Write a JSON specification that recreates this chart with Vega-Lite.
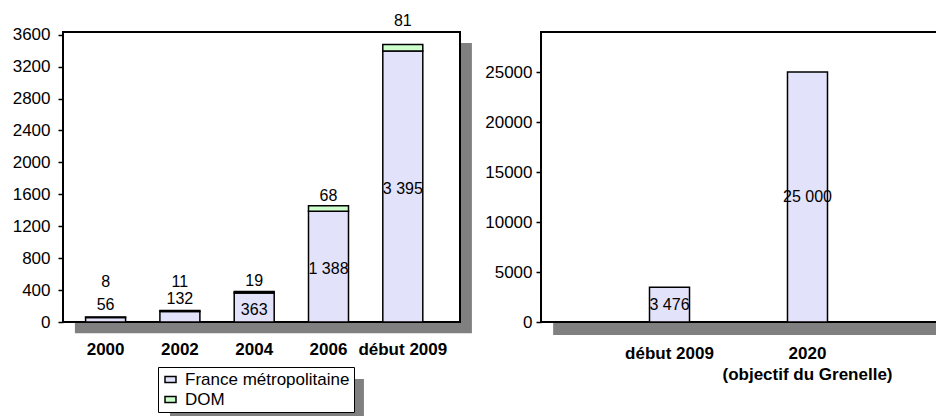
{
  "$schema": "https://vega.github.io/schema/vega-lite/v6.json",
  "autosize": {"type": "none"},
  "padding": {"left": 63, "top": 32, "right": 873, "bottom": 384},
  "bounds": "flush",
  "spacing": 81,
  "datasets": {
    "gauche": [
      {"periode": "2000", "serie": "France métropolitaine", "valeur": 56},
      {"periode": "2000", "serie": "DOM", "valeur": 8},
      {"periode": "2002", "serie": "France métropolitaine", "valeur": 132},
      {"periode": "2002", "serie": "DOM", "valeur": 11},
      {"periode": "2004", "serie": "France métropolitaine", "valeur": 363},
      {"periode": "2004", "serie": "DOM", "valeur": 19},
      {"periode": "2006", "serie": "France métropolitaine", "valeur": 1388},
      {"periode": "2006", "serie": "DOM", "valeur": 68},
      {"periode": "début 2009", "serie": "France métropolitaine", "valeur": 3395},
      {"periode": "début 2009", "serie": "DOM", "valeur": 81}
    ],
    "droite": [
      {"periode": "début 2009", "valeur": 3476},
      {"periode": "2020 (objectif du Grenelle)", "valeur": 25000}
    ]
  },
  "hconcat": [
    {
      "width": 397,
      "height": 290,
      "resolve": {"scale": {"x": "independent"}},
      "layer": [
        {
          "data": {"values": [{}]},
          "layer": [
            {
              "mark": {"type": "rect", "fill": "#808080"},
              "encoding": {
                "x": {"datum": 0.03, "type": "quantitative", "scale": {"domain": [0, 1], "nice": false}, "axis": null},
                "x2": {"datum": 1.03},
                "y": {"datum": 3496, "type": "quantitative", "scale": {"domain": [0, 3634], "nice": false}},
                "y2": {"datum": -140}
              }
            },
            {
              "mark": {"type": "rect", "fill": "white", "stroke": "black", "strokeWidth": 2},
              "encoding": {
                "x": {"datum": 0, "type": "quantitative", "scale": {"domain": [0, 1], "nice": false}, "axis": null},
                "x2": {"datum": 1},
                "y": {"datum": 3634, "type": "quantitative", "scale": {"domain": [0, 3634], "nice": false}},
                "y2": {"datum": 0}
              }
            },
            {
              "mark": {"type": "rect", "fill": "#808080"},
              "encoding": {
                "x": {"datum": 0.2695, "type": "quantitative", "scale": {"domain": [0, 1], "nice": false}, "axis": null},
                "x2": {"datum": 0.758},
                "y": {"datum": -714, "type": "quantitative", "scale": {"domain": [0, 3634], "nice": false}},
                "y2": {"datum": -1185}
              }
            }
          ]
        },
        {
          "data": {"name": "gauche"},
          "layer": [
            {
              "mark": {"type": "bar", "stroke": "black", "strokeWidth": 1.5},
              "encoding": {
                "x": {
                  "field": "periode", "type": "nominal",
                  "scale": {"domain": ["2000", "2002", "2004", "2006", "début 2009"], "range": [22.6, 359.8], "paddingInner": 0.4617, "paddingOuter": 0},
                  "axis": {"title": null, "labelAngle": 0, "ticks": false, "domain": false, "labelFontSize": 17, "labelFontWeight": "bold", "labelPadding": 19, "labelColor": "black"}
                },
                "y": {
                  "field": "valeur", "type": "quantitative", "stack": "zero",
                  "scale": {"domain": [0, 3634], "nice": false},
                  "axis": {"title": null, "values": [0, 400, 800, 1200, 1600, 2000, 2400, 2800, 3200, 3600], "format": "d", "grid": false, "domain": false, "labelOverlap": false, "tickSize": 5, "tickColor": "black", "tickWidth": 1.5, "labelPadding": 8, "labelFontSize": 17, "labelColor": "black"}
                },
                "color": {
                  "field": "serie", "type": "nominal",
                  "scale": {"domain": ["France métropolitaine", "DOM"], "range": ["#E2E2FA", "#CCFFCC"]},
                  "legend": {"orient": "none", "legendX": 95, "legendY": 335, "title": null, "direction": "vertical", "fillColor": "white", "strokeColor": "black", "padding": 4, "labelFontSize": 17, "labelLimit": 400, "labelColor": "black", "symbolType": "M-1,-0.55H1V0.55H-1Z", "symbolSize": 121, "symbolStrokeColor": "black", "symbolStrokeWidth": 1.5, "rowPadding": 2, "labelOffset": 6}
                },
                "order": {"field": "serie", "sort": "descending"}
              }
            },
            {
              "transform": [{"filter": "datum.serie == 'France métropolitaine' && datum.valeur >= 300"}],
              "mark": {"type": "text", "fontSize": 16, "baseline": "middle", "color": "black", "dy": 2},
              "encoding": {
                "x": {"field": "periode", "type": "nominal"},
                "y": {"field": "valeur", "type": "quantitative", "stack": "zero", "bandPosition": 0.5},
                "text": {"field": "valeur", "type": "quantitative", "format": ",d"}
              }
            },
            {
              "transform": [{"filter": "datum.serie == 'France métropolitaine' && datum.valeur < 300"}],
              "mark": {"type": "text", "fontSize": 16, "baseline": "middle", "color": "black", "dy": -12.5},
              "encoding": {
                "x": {"field": "periode", "type": "nominal"},
                "y": {"field": "valeur", "type": "quantitative", "stack": null},
                "text": {"field": "valeur", "type": "quantitative", "format": ",d"}
              }
            },
            {
              "transform": [{"filter": {"field": "serie", "equal": "DOM"}}, {"filter": {"field": "periode", "oneOf": ["2000", "2002", "2004"]}}],
              "mark": {"type": "text", "fontSize": 16, "baseline": "middle", "color": "black", "dy": -39},
              "encoding": {
                "x": {"field": "periode", "type": "nominal"},
                "y": {"field": "valeur", "type": "quantitative", "stack": null},
                "text": {"field": "valeur", "type": "quantitative", "format": ",d"}
              }
            },
            {
              "transform": [
                {"stack": "valeur", "groupby": ["periode"], "sort": [{"field": "serie", "order": "descending"}], "as": ["bas", "haut"]},
                {"filter": {"field": "serie", "equal": "DOM"}},
                {"filter": {"field": "periode", "equal": "2006"}}
              ],
              "mark": {"type": "text", "fontSize": 16, "baseline": "middle", "color": "black", "dy": -10},
              "encoding": {
                "x": {"field": "periode", "type": "nominal"},
                "y": {"field": "haut", "type": "quantitative"},
                "text": {"field": "valeur", "type": "quantitative", "format": ",d"}
              }
            },
            {
              "transform": [
                {"stack": "valeur", "groupby": ["periode"], "sort": [{"field": "serie", "order": "descending"}], "as": ["bas", "haut"]},
                {"filter": {"field": "serie", "equal": "DOM"}},
                {"filter": {"field": "periode", "equal": "début 2009"}}
              ],
              "mark": {"type": "text", "fontSize": 16, "baseline": "middle", "color": "black", "dy": -24},
              "encoding": {
                "x": {"field": "periode", "type": "nominal"},
                "y": {"field": "haut", "type": "quantitative"},
                "text": {"field": "valeur", "type": "quantitative", "format": ",d"}
              }
            }
          ]
        }
      ]
    },
    {
      "width": 405,
      "height": 290,
      "resolve": {"scale": {"x": "independent"}},
      "layer": [
        {
          "data": {"values": [{}]},
          "layer": [
            {
              "mark": {"type": "rect", "fill": "#808080"},
              "encoding": {
                "x": {"datum": 0.03, "type": "quantitative", "scale": {"domain": [0, 1], "nice": false}, "axis": null},
                "x2": {"datum": 1.03},
                "y": {"datum": 27900, "type": "quantitative", "scale": {"domain": [0, 29000], "nice": false}},
                "y2": {"datum": -1300}
              }
            },
            {
              "mark": {"type": "rect", "fill": "white", "stroke": "black", "strokeWidth": 2},
              "encoding": {
                "x": {"datum": 0, "type": "quantitative", "scale": {"domain": [0, 1], "nice": false}, "axis": null},
                "x2": {"datum": 1},
                "y": {"datum": 29000, "type": "quantitative", "scale": {"domain": [0, 29000], "nice": false}},
                "y2": {"datum": 0}
              }
            }
          ]
        },
        {
          "data": {"name": "droite"},
          "layer": [
            {
              "mark": {"type": "bar", "stroke": "black", "strokeWidth": 1.5, "fill": "#E2E2FA"},
              "encoding": {
                "x": {
                  "field": "periode", "type": "nominal",
                  "scale": {"domain": ["début 2009", "2020 (objectif du Grenelle)"], "range": [108.5, 286.5], "paddingInner": 0.71, "paddingOuter": 0},
                  "axis": {"title": null, "labelAngle": 0, "ticks": false, "domain": false, "labelFontSize": 17, "labelFontWeight": "bold", "labelPadding": 23, "labelLineHeight": 21, "labelColor": "black",
                    "labelExpr": "indexof(datum.value, ' (') > 0 ? [slice(datum.value, 0, indexof(datum.value, ' (')), slice(datum.value, indexof(datum.value, ' (') + 1)] : datum.value"}
                },
                "y": {
                  "field": "valeur", "type": "quantitative", "stack": "zero",
                  "scale": {"domain": [0, 29000], "nice": false},
                  "axis": {"title": null, "values": [0, 5000, 10000, 15000, 20000, 25000], "format": "d", "grid": false, "domain": false, "labelOverlap": false, "tickSize": 5, "tickColor": "black", "tickWidth": 1.5, "labelPadding": 4, "labelFontSize": 17, "labelColor": "black"}
                }
              }
            },
            {
              "mark": {"type": "text", "fontSize": 16, "baseline": "middle", "color": "black"},
              "encoding": {
                "x": {"field": "periode", "type": "nominal"},
                "y": {"field": "valeur", "type": "quantitative", "stack": "zero", "bandPosition": 0.5},
                "text": {"field": "valeur", "type": "quantitative", "format": ",d"}
              }
            }
          ]
        }
      ]
    }
  ],
  "config": {
    "font": "Liberation Sans",
    "view": {"stroke": null},
    "text": {"font": "Liberation Sans"},
    "axis": {"labelOverlap": false, "labelFontSize": 17, "labelColor": "black"},
    "axisY": {"labelOverlap": false, "tickCount": 20},
    "locale": {"number": {"decimal": ",", "thousands": " ", "grouping": [3], "currency": ["", " €"]}}
  }
}
